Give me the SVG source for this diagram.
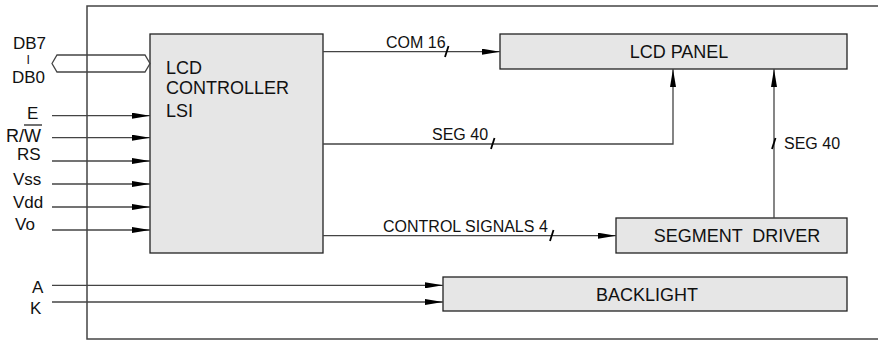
<svg xmlns="http://www.w3.org/2000/svg" width="878" height="340" viewBox="0 0 878 340">
<style>
.box{fill:#e6e6e6;stroke:#222;stroke-width:1.3}
.ln{stroke:#444;stroke-width:1.3;fill:none}
.tk{stroke:#000;stroke-width:1.8}
text{font-family:"Liberation Sans",Arial,sans-serif;fill:#111}
.bl{font-size:18px}
.sl{font-size:16px}
.il{font-size:17px}
</style>
<defs>
<marker id="ar" viewBox="0 0 18 6" refX="18" refY="3" markerWidth="18" markerHeight="6" markerUnits="userSpaceOnUse" orient="auto">
<path d="M0,0 L18,3 L0,6 z" fill="#000"/>
</marker>
</defs>
<rect x="87" y="6" width="830" height="333" fill="none" stroke="#444" stroke-width="1.5"/>
<g id="controller">
<rect class="box" x="150" y="34" width="173" height="219"/>
<text class="bl" x="166" y="74">LCD</text>
<text class="bl" x="166" y="94">CONTROLLER</text>
<text class="bl" x="166" y="117">LSI</text>
</g>
<g id="lcd-panel">
<rect class="box" x="500" y="34" width="347" height="35"/>
<text class="bl" x="679" y="58" text-anchor="middle">LCD PANEL</text>
</g>
<g id="segment-driver">
<rect class="box" x="616" y="218" width="231" height="35"/>
<text class="bl" x="737" y="242" text-anchor="middle" xml:space="preserve">SEGMENT  DRIVER</text>
</g>
<g id="backlight">
<rect class="box" x="443" y="277" width="404" height="34"/>
<text class="bl" x="596" y="301">BACKLIGHT</text>
</g>
<g id="inputs">
<text class="il" x="13" y="49">DB7</text>
<text x="26.5" y="64" font-size="12.5">I</text>
<text class="il" x="12" y="83">DB0</text>
<text class="il" x="27" y="119">E</text>
<text x="6" y="142" font-size="18">R/W</text>
<line x1="24" y1="125" x2="42" y2="125" stroke="#111" stroke-width="1.2"/>
<text class="il" x="17" y="160">RS</text>
<text class="il" x="13" y="185">Vss</text>
<text class="il" x="13" y="208">Vdd</text>
<text class="il" x="15" y="230">Vo</text>
<text class="il" x="32" y="293">A</text>
<text class="il" x="30" y="314">K</text>
</g>
<g id="connectors">
<path class="ln" d="M52,63.5 L57,55 L145,55 L150,63.5 L145,72 L57,72 Z" fill="#fff"/>
<line class="ln" x1="52" y1="115.7" x2="150" y2="115.7" marker-end="url(#ar)"/>
<line class="ln" x1="52" y1="137.7" x2="150" y2="137.7" marker-end="url(#ar)"/>
<line class="ln" x1="52" y1="161" x2="150" y2="161" marker-end="url(#ar)"/>
<line class="ln" x1="52" y1="184" x2="150" y2="184" marker-end="url(#ar)"/>
<line class="ln" x1="52" y1="207" x2="150" y2="207" marker-end="url(#ar)"/>
<line class="ln" x1="52" y1="230" x2="150" y2="230" marker-end="url(#ar)"/>
<line class="ln" x1="52" y1="285.3" x2="443" y2="285.3" marker-end="url(#ar)"/>
<line class="ln" x1="52" y1="302" x2="443" y2="302" marker-end="url(#ar)"/>
<line class="ln" x1="323" y1="51.7" x2="500" y2="51.7" marker-end="url(#ar)"/>
<line class="tk" x1="445" y1="57" x2="448.5" y2="46"/>
<text class="sl" x="386" y="48">COM 16</text>
<path class="ln" d="M323,144 L673,144 L673,69" marker-end="url(#ar)"/>
<line class="tk" x1="491" y1="149" x2="494.5" y2="138"/>
<text class="sl" x="432" y="140">SEG 40</text>
<line class="ln" x1="774" y1="218" x2="774" y2="69" marker-end="url(#ar)"/>
<line class="tk" x1="772" y1="149" x2="775.5" y2="138"/>
<text class="sl" x="784" y="149">SEG 40</text>
<line class="ln" x1="323" y1="235.7" x2="616" y2="235.7" marker-end="url(#ar)"/>
<line class="tk" x1="550" y1="241" x2="553.5" y2="230"/>
<text class="sl" x="383" y="232">CONTROL SIGNALS 4</text>
</g>
</svg>
